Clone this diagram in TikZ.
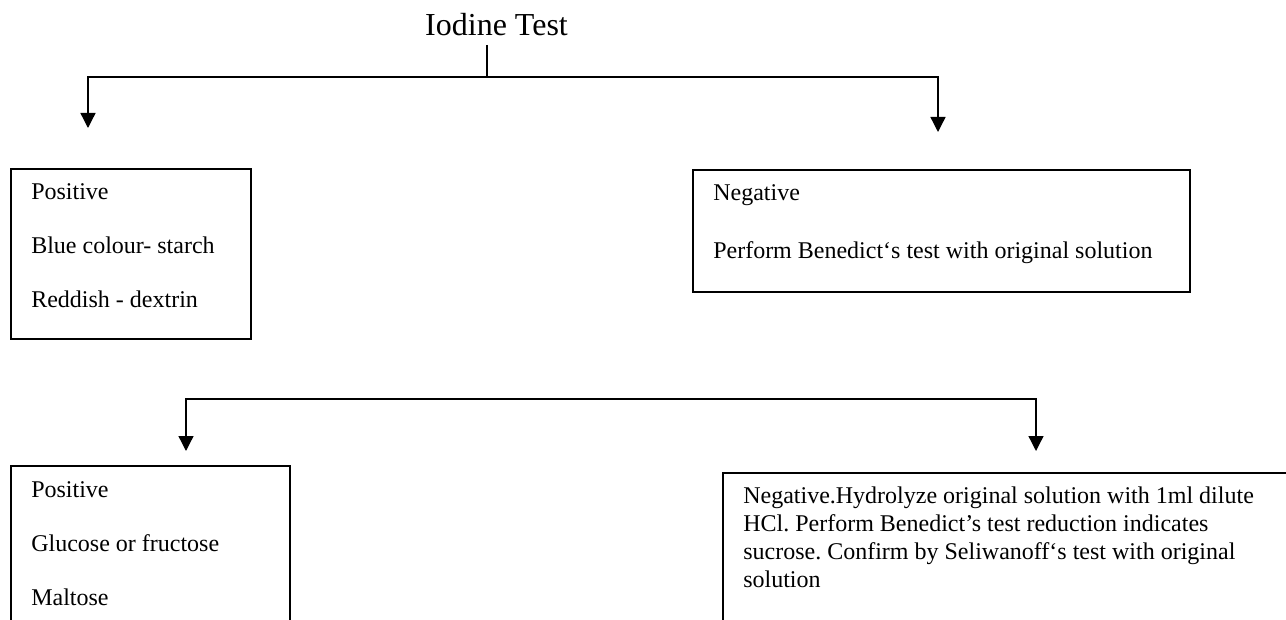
\documentclass[tikz,border=0pt]{standalone}
\usepackage{fontspec}
\setmainfont{Liberation Serif}
\usetikzlibrary{arrows.meta}
\frenchspacing

\begin{document}
\begin{tikzpicture}[x=0.75pt,y=-0.75pt,
        panel/.style={draw,line width=1.2pt,anchor=north west,inner sep=0pt},
        body/.style={anchor=north west,inner sep=0pt,align=left,
            font=\fontsize{18pt}{21pt}\selectfont},
        wire/.style={line width=1pt},
        link/.style={wire,-{Triangle[length=11.25pt,width=11.25pt]}}]
    \clip (0,0) rectangle (1286,620);
    \node[anchor=base,inner sep=0pt,font=\fontsize{24pt}{28pt}\selectfont] (title) at (496.5,36) {Iodine Test};
    \coordinate (stemtop) at (487,45);
    \coordinate (split1) at (487,77);
    \coordinate (tipA) at (88,128);
    \coordinate (tipB) at (938,132);
    \coordinate (split2) at (611,399);
    \coordinate (tipC) at (186,451);
    \coordinate (tipD) at (1036,451);
    \node[panel,minimum width=180pt,minimum height=127.5pt] (posA) at (10,168) {};
    \node[panel,minimum width=372.75pt,minimum height=91.5pt] (negB) at (692,169) {};
    \node[panel,minimum width=209.25pt,minimum height=150pt] (posC) at (10,465) {};
    \node[panel,minimum width=433.5pt,minimum height=171pt] (negD) at (722,472) {};
    \node[body] (posAtext) at ([shift={(21,15.6)}]posA.north west)
        {Positive\\[19.5pt]Blue colour- starch\\[19.5pt]Reddish - dextrin};
    \node[body] (negBtext) at ([shift={(21,15.6)}]negB.north west)
        {Negative\\[22.5pt]Perform Benedict‘s test with original solution};
    \node[body] (posCtext) at ([shift={(21,16.6)}]posC.north west)
        {Positive\\[19.5pt]Glucose or fructose\\[19.5pt]Maltose};
    \node[body] (negDtext) at ([shift={(21,14.6)}]negD.north west)
        {Negative.Hydrolyze original solution with 1ml dilute\\
         HCl. Perform Benedict’s test reduction indicates\\
         sucrose. Confirm by Seliwanoff‘s test with original\\
         solution};
    \draw[wire] (stemtop) -- (split1);
    \draw[link] (split1) -| (tipA);
    \draw[link] (split1) -| (tipB);
    \draw[link] (split2) -| (tipC);
    \draw[link] (split2) -| (tipD);
\end{tikzpicture}
\end{document}
